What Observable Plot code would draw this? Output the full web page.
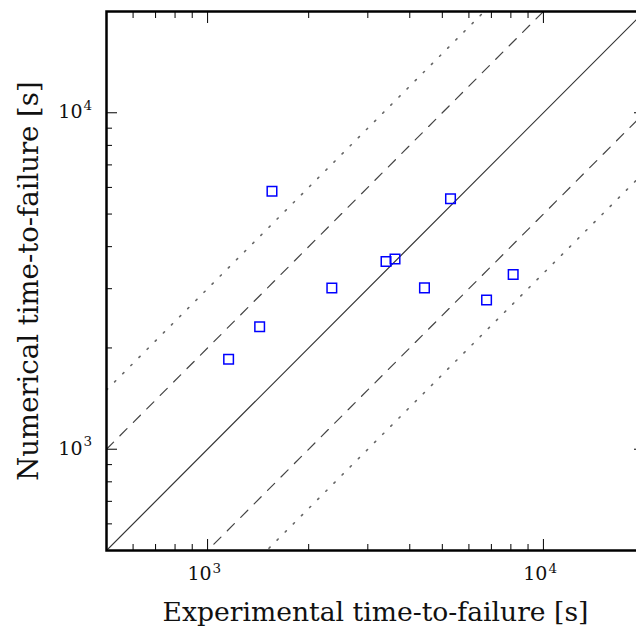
<!DOCTYPE html>
<html>
<head>
<meta charset="utf-8">
<script src="https://cdn.jsdelivr.net/npm/d3@7"></script>
<script src="https://cdn.jsdelivr.net/npm/@observablehq/plot@0.6"></script>
<style>
  html, body { margin: 0; padding: 0; background: #fff; overflow: hidden; width: 636px; height: 627px; }
</style>
</head>
<body>
<div id="chart"></div>
<script>
// Data (experimental vs numerical time-to-failure, seconds)
const experimental = [1155, 1429, 1555, 2344, 3399, 3615, 4424, 5289, 6772, 8128];
const numerical    = [1850, 2312, 5848, 3014, 3614, 3677, 3017, 5552, 2775, 3307];

const axisDomain = [500, 20000];
const majorTicks = [1000, 10000];
const minorTicks = [500, 600, 700, 800, 900, 2000, 3000, 4000, 5000, 6000, 7000, 8000, 9000, 20000];

const ratioSolid = [1];
const ratioDashed = [2, 1 / 2];
const ratioDotted = [3, 1 / 3];

const xLabel = "Experimental time-to-failure [s]";
const yLabel = "Numerical time-to-failure [s]";

const points = experimental.map((x, i) => ({x, y: numerical[i]}));
const refLines = (ratios) => ratios.flatMap(k => axisDomain.map(x => ({k, x, y: x * k})));

const base = () => "10";
const exponent = d => String(Math.round(Math.log10(d)));

const chart = Plot.plot({
  width: 644,
  height: 627,
  marginLeft: 106,
  marginRight: 0,
  marginTop: 11,
  marginBottom: 77,
  style: {fontFamily: "DejaVu Serif", maxWidth: "none", background: "#fff"},
  x: {type: "log", domain: axisDomain},
  y: {type: "log", domain: axisDomain},
  marks: [
    Plot.line(refLines(ratioSolid), {x: "x", y: "y", z: "k", clip: true, stroke: "#333", strokeWidth: 1.2}),
    Plot.line(refLines(ratioDashed), {x: "x", y: "y", z: "k", clip: true, stroke: "#444", strokeWidth: 1.2, strokeDasharray: "10,9"}),
    Plot.line(refLines(ratioDotted), {x: "x", y: "y", z: "k", clip: true, stroke: "#666", strokeWidth: 1.6, strokeDasharray: "1.5,10"}),
    Plot.dot(points, {x: "x", y: "y", symbol: "square", r: 5.4, stroke: "#0000ff", strokeWidth: 1.5, fill: "none"}),
    // inward ticks on all four sides
    Plot.axisX(majorTicks, {anchor: "bottom", tickSize: -11, fill: "none", label: null, stroke: "#000"}),
    Plot.axisX(minorTicks, {anchor: "bottom", tickSize: -6, fill: "none", label: null, stroke: "#000"}),
    Plot.axisX(majorTicks, {anchor: "top", tickSize: -11, fill: "none", label: null, stroke: "#000"}),
    Plot.axisX(minorTicks, {anchor: "top", tickSize: -6, fill: "none", label: null, stroke: "#000"}),
    Plot.axisY(majorTicks, {anchor: "left", tickSize: -11, fill: "none", label: null, stroke: "#000"}),
    Plot.axisY(minorTicks, {anchor: "left", tickSize: -6, fill: "none", label: null, stroke: "#000"}),
    Plot.axisY(majorTicks, {anchor: "right", tickSize: -11, fill: "none", label: null, stroke: "#000"}),
    Plot.axisY(minorTicks, {anchor: "right", tickSize: -6, fill: "none", label: null, stroke: "#000"}),
    // tick labels: base "10" and raised exponent
    Plot.text(majorTicks, {x: d => d, frameAnchor: "bottom", text: base, textAnchor: "end", lineAnchor: "bottom", dx: 4, dy: 29, fontSize: 19, fill: "#111"}),
    Plot.text(majorTicks, {x: d => d, frameAnchor: "bottom", text: exponent, textAnchor: "start", lineAnchor: "bottom", dx: 5, dy: 22, fontSize: 13.5, fill: "#111"}),
    Plot.text(majorTicks, {y: d => d, frameAnchor: "left", text: base, textAnchor: "end", lineAnchor: "bottom", dx: -24, dy: 5.5, fontSize: 19, fill: "#111"}),
    Plot.text(majorTicks, {y: d => d, frameAnchor: "left", text: exponent, textAnchor: "start", lineAnchor: "bottom", dx: -23, dy: -3, fontSize: 13.5, fill: "#111"}),
    // axis titles
    Plot.text([xLabel], {frameAnchor: "bottom", dy: 70, lineAnchor: "bottom", text: d => d, fontSize: 26.6, fill: "#111"}),
    Plot.text([yLabel], {frameAnchor: "left", dx: -69, rotate: -90, textAnchor: "middle", lineAnchor: "bottom", text: d => d, fontSize: 27.5, fill: "#111"}),
    Plot.frame({stroke: "#000", strokeWidth: 2.5})
  ]
});
document.getElementById("chart").appendChild(chart);
</script>
</body>
</html>
